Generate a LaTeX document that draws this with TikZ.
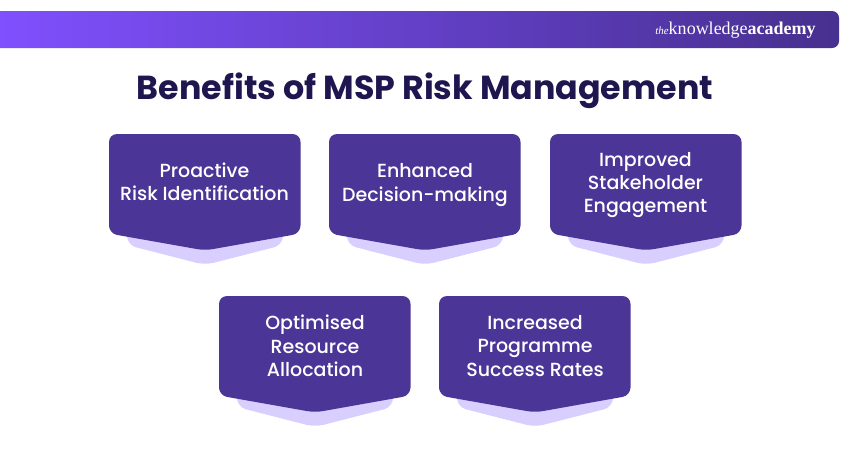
\documentclass[tikz,border=0pt]{standalone}
\usepackage{fontspec}
\setmainfont{Poppins Medium}[BoldFont={Poppins Bold}]
\newfontfamily\logofont{Liberation Serif}
\definecolor{cardfill}{HTML}{4B3596}
\definecolor{cardback}{HTML}{D9CFFF}
\definecolor{titleink}{HTML}{1F1650}
\definecolor{bannerleft}{HTML}{8050FF}
\definecolor{bannerright}{HTML}{47308F}
\tikzset{
  cardtext/.style={text=white,align=center,font=\fontsize{19}{23.4}\selectfont,inner sep=0pt},
  pics/card/.style={code={
    \fill[cardback,rounded corners=9pt] (18,90) -- (18,111) -- (96,131) -- (174,111) -- (174,90) -- cycle;
    \fill[cardfill,rounded corners=8pt] (0,0) -- (191.5,0) -- (191.5,99.5) -- (96,116.5) -- (0,99.5) -- cycle;
  }},
}
\begin{document}
\begin{tikzpicture}[x=1pt,y=-1pt]
    \useasboundingbox (0,0) rectangle (850,450);

    \shade[left color=bannerleft,right color=bannerright,rounded corners=7pt]
      (-10,11) -- (839,11) -- (839,48) -- (-10,48) -- cycle;
    \node (logo) at (735.5,30)[text=white,inner sep=0pt,font=\logofont\fontsize{18}{20}\selectfont]
      {{\itshape\fontsize{11}{12}\selectfont the}knowledge\textbf{academy}};

    \node (title) at (425,91)[text=titleink,inner sep=0pt,font=\fontsize{33.3}{38}\selectfont\bfseries]
      {Benefits of MSP Risk Management};

    \pic at (109,134) {card};
    \pic at (329,134) {card};
    \pic at (550,134) {card};
    \pic at (219,296) {card};
    \pic at (439,296) {card};

    \node (T1) at (204.5,182)[cardtext]{Proactive\\Risk Identification};
    \node (T2) at (425,185)[cardtext]{Enhanced\\Decision-making};
    \node (T3) at (645.5,185)[cardtext]{Improved\\Stakeholder\\Engagement};
    \node (T4) at (315,346)[cardtext]{Optimised\\Resource\\Allocation};
    \node (T5) at (535,346)[cardtext]{Increased\\Programme\\Success Rates};
\end{tikzpicture}
\end{document}
